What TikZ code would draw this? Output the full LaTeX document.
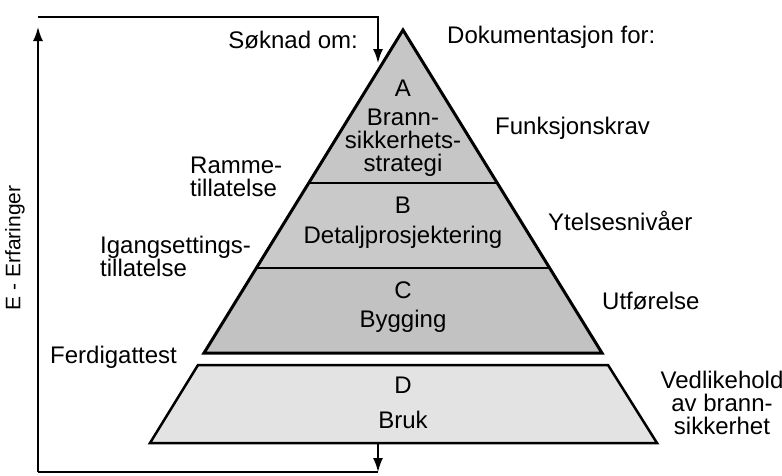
\documentclass[tikz,border=0pt]{standalone}
\usepackage{fontspec}
\setmainfont{Liberation Sans}
\usetikzlibrary{arrows.meta}

\begin{document}
\begin{tikzpicture}[x=1pt, y=-1pt]
% Define the styles
\tikzstyle{txt} = [inner sep=0pt, align=center, font=\fontsize{24}{23}\selectfont]
\tikzstyle{side} = [txt, anchor=west, align=left]
\tikzstyle{layer} = [draw, line width=1.8pt]
\tikzstyle{flow} = [line width=1.8pt, -{Latex[length=14pt, width=10pt]}]

\useasboundingbox (0,0) rectangle (782,475);

% Define the layers
\fill[gray!45] (403,30) -- (497,183) -- (309,183) -- cycle;
\fill[gray!42] (309,183) -- (497,183) -- (549,268) -- (257,268) -- cycle;
\fill[gray!48] (257,268) -- (549,268) -- (602,353) -- (204,353) -- cycle;
\draw[layer] (309,183) -- (497,183);
\draw[layer] (257,268) -- (549,268);
\draw[line width=3pt, line join=miter] (403,30) -- (602,353) -- (204,353) -- cycle;
\draw[layer, line width=2.5pt, fill=gray!22] (198,365) -- (608,365) -- (657,443) -- (150,443) -- cycle;

% Define the layer texts
\node[txt] (A) at (403,88) {A};
\node[txt] (Atxt) at (403,143) {Brann-\\sikkerhets-\\strategi};
\node[txt] (B) at (403,205) {B};
\node[txt] (Btxt) at (403,237) {Detaljprosjektering};
\node[txt] (C) at (403,290) {C};
\node[txt] (Ctxt) at (403,321) {Bygging};
\node[txt] (D) at (403,385) {D};
\node[txt] (Dtxt) at (403,420) {Bruk};

% Define the side texts
\node[txt, anchor=east] (soknad) at (358,40) {Søknad om:};
\node[side] (ramme) at (190,177) {Ramme-\\tillatelse};
\node[side] (igang) at (100,256) {Igangsettings-\\tillatelse};
\node[side] (ferdig) at (50,357) {Ferdigattest};
\node[side] (dok) at (447,37) {Dokumentasjon for:};
\node[side] (funk) at (495,128) {Funksjonskrav};
\node[side] (ytelse) at (548,221) {Ytelsesnivåer};
\node[side] (utf) at (602,301) {Utførelse};
\node[txt] (vedl) at (722,403) {Vedlikehold\\av brann-\\sikkerhet};
\node[txt, rotate=90, font=\fontsize{21}{21}\selectfont] (erf) at (15,248) {E - Erfaringer};

% Define the feedback loop
\coordinate (Dout) at (378,443);
\coordinate (loopBR) at (378,472);
\coordinate (loopBL) at (38,472);
\coordinate (loopUp) at (38,27);
\coordinate (loopTL) at (38,17);
\coordinate (loopTR) at (378,17);
\coordinate (Ain) at (378,63);

\draw[flow] (Dout) -- (loopBR);
\draw[line width=1.8pt] (loopBR) -- (loopBL);
\draw[flow] (loopBL) -- (loopUp);
\draw[flow] (loopTL) -- (loopTR) -- (Ain);

\end{tikzpicture}
\end{document}
